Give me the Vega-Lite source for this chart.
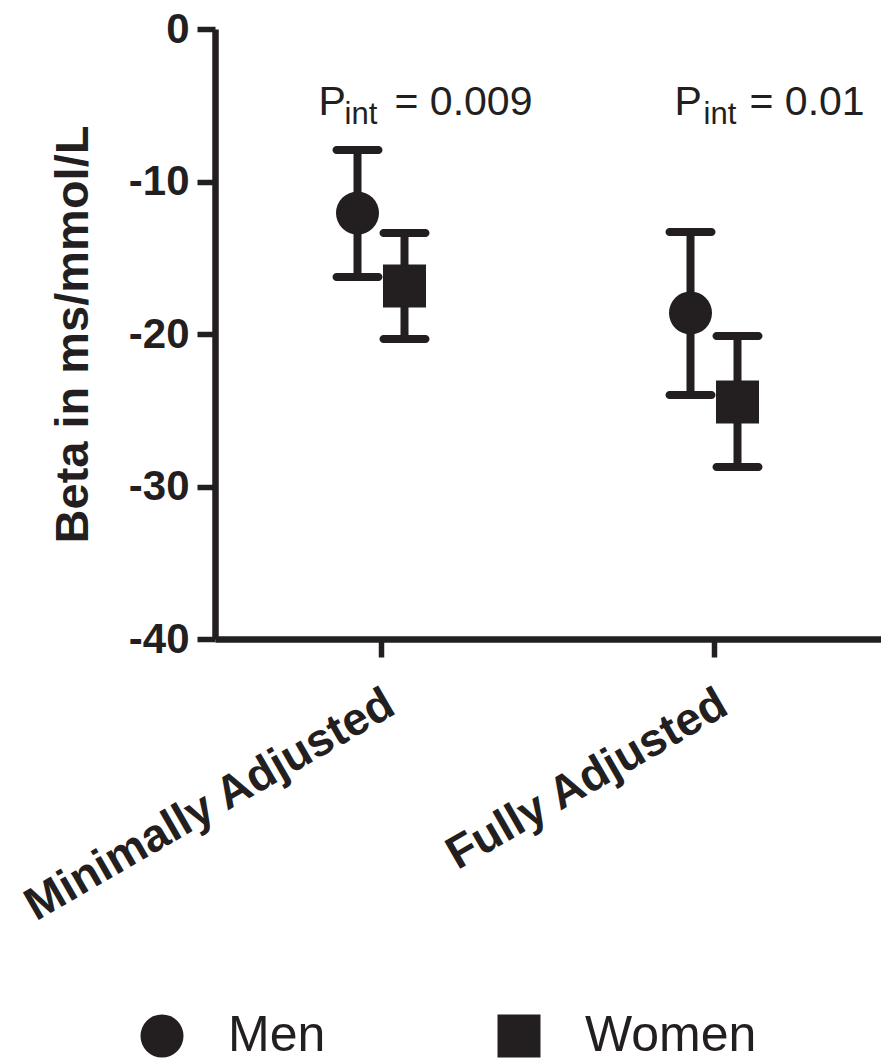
{
  "$schema": "https://vega.github.io/schema/vega-lite/v6.json",
  "width": 666,
  "height": 610,
  "autosize": {"type": "none"},
  "padding": {"left": 215, "top": 29, "right": 0, "bottom": 421},
  "background": "white",
  "config": {
    "view": {"stroke": null},
    "font": "Liberation Sans",
    "axis": {
      "grid": false,
      "domainColor": "#231f20",
      "domainWidth": 6.5,
      "tickColor": "#231f20",
      "tickSize": 18,
      "tickWidth": 5.5,
      "labelColor": "#231f20",
      "labelFont": "Liberation Sans",
      "labelFontWeight": "bold",
      "titleFont": "Liberation Sans",
      "titleFontWeight": "bold",
      "titleColor": "#231f20"
    }
  },
  "datasets": {
    "est": [
      {"adj": "Minimally Adjusted", "sex": "Men", "beta": -12.07, "lo": -16.26, "hi": -7.93},
      {"adj": "Minimally Adjusted", "sex": "Women", "beta": -16.85, "lo": -20.33, "hi": -13.38},
      {"adj": "Fully Adjusted", "sex": "Men", "beta": -18.62, "lo": -24.0, "hi": -13.31},
      {"adj": "Fully Adjusted", "sex": "Women", "beta": -24.46, "lo": -28.72, "hi": -20.13}
    ],
    "ann": [
      {"adj": "Minimally Adjusted", "y": -5.64, "p": "P", "sub": "int", "rest": "= 0.009"},
      {"adj": "Fully Adjusted", "y": -5.64, "p": "P", "sub": "int", "rest": "= 0.01"}
    ]
  },
  "encoding": {
    "x": {
      "field": "adj",
      "type": "nominal",
      "sort": ["Minimally Adjusted", "Fully Adjusted"],
      "scale": {"paddingInner": 0, "paddingOuter": 0},
      "axis": {
        "title": null,
        "labelAngle": -30,
        "labelFontSize": 46,
        "labelPadding": 24,
        "labelOffset": -2,
        "labelLimit": 600,
        "labelAlign": "right",
        "labelBaseline": "top"
      }
    }
  },
  "layer": [
    {
      "data": {"name": "est"},
      "mark": {"type": "rule", "strokeWidth": 8, "color": "#231f20"},
      "encoding": {
        "xOffset": {"field": "sex", "type": "nominal", "scale": {"type": "point", "padding": 0, "range": [142.5, 189.5]}},
        "y": {
          "field": "lo",
          "type": "quantitative",
          "scale": {"domain": [-40, 0], "nice": false, "zero": false},
          "axis": {
            "values": [0, -10, -20, -30, -40],
            "labelExpr": "'' + datum.value",
            "labelFontSize": 42,
            "labelPadding": 8,
            "title": "Beta in ms/mmol/L",
            "titleFontSize": 47,
            "titlePadding": 31
          }
        },
        "y2": {"field": "hi"}
      }
    },
    {
      "data": {"name": "est"},
      "mark": {"type": "tick", "thickness": 8, "size": 50, "cornerRadius": 4, "color": "#231f20", "opacity": 1},
      "encoding": {
        "xOffset": {"field": "sex", "type": "nominal"},
        "y": {"field": "lo", "type": "quantitative"}
      }
    },
    {
      "data": {"name": "est"},
      "mark": {"type": "tick", "thickness": 8, "size": 50, "cornerRadius": 4, "color": "#231f20", "opacity": 1},
      "encoding": {
        "xOffset": {"field": "sex", "type": "nominal"},
        "y": {"field": "hi", "type": "quantitative"}
      }
    },
    {
      "data": {"name": "est"},
      "mark": {"type": "point", "filled": true, "size": 1850, "color": "#231f20", "opacity": 1},
      "encoding": {
        "xOffset": {"field": "sex", "type": "nominal"},
        "y": {"field": "beta", "type": "quantitative"},
        "shape": {
          "field": "sex",
          "type": "nominal",
          "scale": {"domain": ["Men", "Women"], "range": ["circle", "square"]},
          "legend": {
            "title": null,
            "orient": "none",
            "direction": "horizontal",
            "legendX": -78,
            "legendY": 982,
            "symbolSize": 1850,
            "symbolFillColor": "#231f20",
            "symbolStrokeWidth": 0,
            "symbolOpacity": 1,
            "labelFont": "Liberation Sans",
            "labelFontSize": 50,
            "labelColor": "#231f20",
            "labelOffset": 41,
            "columnPadding": 168,
            "labelLimit": 400
          }
        }
      }
    },
    {
      "data": {"name": "ann"},
      "transform": [{"filter": "datum.adj === 'Minimally Adjusted'"}],
      "layer": [
        {"mark": {"type": "text", "align": "left", "baseline": "alphabetic", "fontSize": 41, "dx": -63, "color": "#231f20"},
         "encoding": {"y": {"field": "y", "type": "quantitative"}, "text": {"field": "p"}}},
        {"mark": {"type": "text", "align": "left", "baseline": "alphabetic", "fontSize": 31, "dx": -37, "dy": 9, "color": "#231f20"},
         "encoding": {"y": {"field": "y", "type": "quantitative"}, "text": {"field": "sub"}}},
        {"mark": {"type": "text", "align": "left", "baseline": "alphabetic", "fontSize": 41, "dx": 13, "color": "#231f20"},
         "encoding": {"y": {"field": "y", "type": "quantitative"}, "text": {"field": "rest"}}}
      ]
    },
    {
      "data": {"name": "ann"},
      "transform": [{"filter": "datum.adj === 'Fully Adjusted'"}],
      "layer": [
        {"mark": {"type": "text", "align": "left", "baseline": "alphabetic", "fontSize": 41, "dx": -40, "color": "#231f20"},
         "encoding": {"y": {"field": "y", "type": "quantitative"}, "text": {"field": "p"}}},
        {"mark": {"type": "text", "align": "left", "baseline": "alphabetic", "fontSize": 31, "dx": -11, "dy": 9, "color": "#231f20"},
         "encoding": {"y": {"field": "y", "type": "quantitative"}, "text": {"field": "sub"}}},
        {"mark": {"type": "text", "align": "left", "baseline": "alphabetic", "fontSize": 41, "dx": 35, "color": "#231f20"},
         "encoding": {"y": {"field": "y", "type": "quantitative"}, "text": {"field": "rest"}}}
      ]
    }
  ]
}
